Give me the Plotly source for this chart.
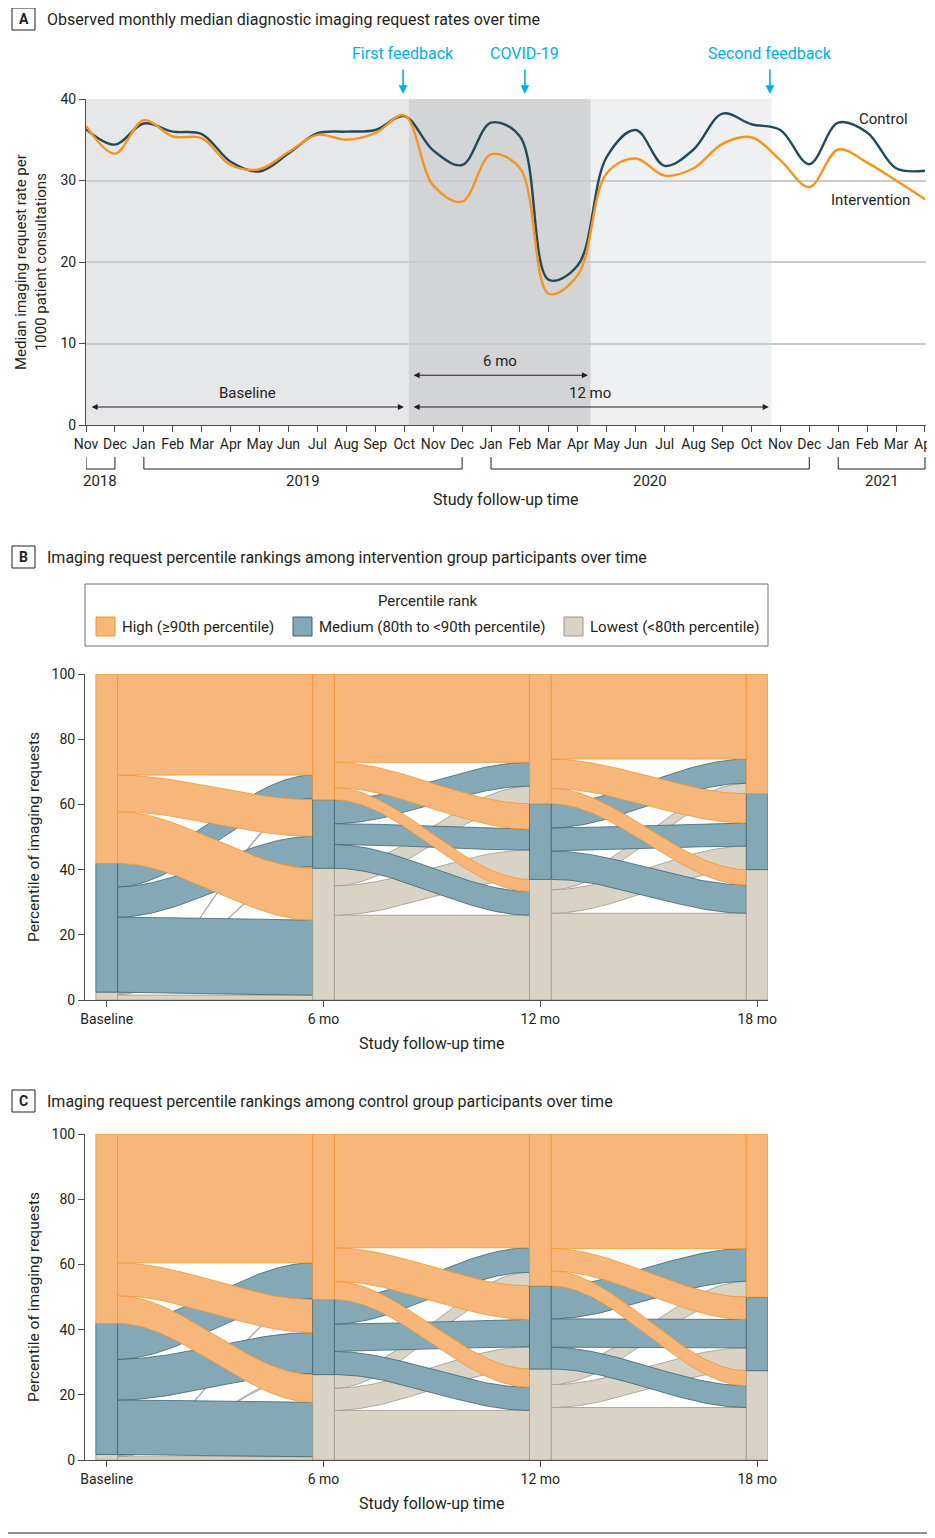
import numpy as np
import plotly.graph_objects as go

W, H = 935, 1538
FONT = "Roboto, 'Liberation Sans', Arial, sans-serif"
TXT = "#231F20"
CYAN = "#00AEEF"
PAGE_OFFSET = 8  # default body margin of the html page

# ---------------- Panel A data ----------------
month_labels = ["Nov", "Dec", "Jan", "Feb", "Mar", "Apr", "May", "Jun", "Jul", "Aug", "Sep", "Oct",
                "Nov", "Dec", "Jan", "Feb", "Mar", "Apr", "May", "Jun", "Jul", "Aug", "Sep", "Oct",
                "Nov", "Dec", "Jan", "Feb", "Mar", "Apr"]
control_rate = [36.3, 34.4, 37.0, 36.0, 35.7, 32.3, 31.1, 33.3, 35.8, 36.0, 36.2, 37.9,
                33.7, 31.9, 37.1, 35.4, 17.8, 19.6, 32.9, 36.2, 31.8, 33.8, 38.2, 36.9,
                36.2, 32.0, 37.1, 35.9, 31.5, 31.2]
intervention_rate = [36.7, 33.3, 37.4, 35.4, 35.2, 31.9, 31.4, 33.5, 35.6, 35.0, 35.8, 38.0,
                     29.4, 27.4, 33.2, 31.5, 16.1, 18.4, 30.9, 32.7, 30.6, 31.5, 34.5, 35.3,
                     32.5, 29.2, 33.8, 32.2, 30.0, 27.7]
years = ["2018", "2019", "2020", "2021"]
year_first_month = [0, 2, 14, 26]
year_last_month = [1, 13, 25, 29]
events = ["First feedback", "COVID-19", "Second feedback"]
event_month = [10.96, 15.17, 23.64]
period_edges = [0.0, 11.15, 17.45, 23.7]     # baseline | first 6 mo | to 12 mo
period_colors = ["#E6E7E8", "#D3D4D6", "#EFF0F1"]

# ---------------- Panels B/C data ----------------
time_labels = ["Baseline", "6 mo", "12 mo", "18 mo"]
ranks = ["High", "Medium", "Lowest"]
rank_legend = ["High (≥90th percentile)", "Medium (80th to <90th percentile)", "Lowest (<80th percentile)"]
# flow matrices [from rank][to rank], % of imaging requests, order High, Medium, Lowest
interv_base_to_6 = [[31.0, 11.2, 15.9], [7.2, 9.3, 23.0], [0.4, 0.5, 1.5]]
interv_6_to_12 = [[27.1, 7.8, 3.7], [7.3, 6.4, 7.3], [5.4, 9.0, 26.0]]
interv_12_to_18 = [[26.1, 9.0, 4.7], [7.4, 7.1, 8.7], [3.2, 7.2, 26.6]]
control_base_to_6 = [[39.5, 10.1, 8.5], [11.0, 12.5, 16.7], [0.3, 0.4, 1.0]]
control_6_to_12 = [[34.9, 10.3, 5.6], [7.5, 8.4, 7.1], [4.2, 6.8, 15.2]]
control_12_to_18 = [[35.1, 6.9, 4.6], [10.1, 8.7, 6.7], [4.8, 7.0, 16.1]]

fill_col = {"High": "#F7B77B", "Medium": "#84A8B6", "Lowest": "#D9D3C6"}
edge_col = {"High": "#F7962A", "Medium": "#3C6575", "Lowest": "#9E978C"}


def px(x):
    return (x - PAGE_OFFSET) / W


def py(y):
    return 1 - (y - PAGE_OFFSET) / H


fig = go.Figure()
shapes = []
ann = []


def text(t, x, y, size=15, color=TXT, xanchor="center", xref="paper", yref="paper", **kw):
    ann.append(dict(text=t, x=x, y=y, xref=xref, yref=yref, showarrow=False,
                    xanchor=xanchor, yanchor="middle", font=dict(size=size, color=color), **kw))


# ---------------- Panel A ----------------
for i in range(3):
    shapes.append(dict(type="rect", xref="x", yref="y", x0=period_edges[i],
                       x1=period_edges[i + 1], y0=0, y1=40, fillcolor=period_colors[i],
                       line_width=0, layer="below"))

months = list(range(len(month_labels)))
fig.add_trace(go.Scatter(x=months, y=control_rate, mode="lines", xaxis="x", yaxis="y",
                         line=dict(color="#24495A", width=2.4, shape="spline", smoothing=1.0),
                         hoverinfo="skip", showlegend=False))
fig.add_trace(go.Scatter(x=months, y=intervention_rate, mode="lines", xaxis="x", yaxis="y",
                         line=dict(color="#F7941D", width=2.4, shape="spline", smoothing=1.0),
                         hoverinfo="skip", showlegend=False))

text("Control", 27.55, 37.6, xref="x", yref="y")
text("Intervention", 27.1, 27.6, xref="x", yref="y")

# event markers
for name, m in zip(events, event_month):
    text(name, m, py(53), size=16, color=CYAN, xref="x")
    ann.append(dict(text="", xref="x", yref="paper", x=m, y=py(94), ax=0, ay=-26,
                    showarrow=True, arrowhead=2, arrowsize=1.1, arrowwidth=1.6,
                    arrowcolor=CYAN))

# period arrows
arrow_specs = [("Baseline", 0.14, 10.99, 2.2), ("6 mo", 11.27, 17.35, 6.1),
               ("12 mo", 11.27, 23.6, 2.2)]
for lab, a, b, yy in arrow_specs:
    ann.append(dict(text="", xref="x", yref="y", x=b, y=yy, axref="x", ayref="y", ax=a, ay=yy,
                    showarrow=True, arrowside="end+start", arrowhead=2, startarrowhead=2,
                    arrowsize=1.1, startarrowsize=1.1, arrowwidth=1.1, arrowcolor=TXT))
    text(lab, (a + b) / 2, yy + 1.75, xref="x", yref="y")

# year brackets
for yr, a, b in zip(years, year_first_month, year_last_month):
    for xx in (a, b):
        shapes.append(dict(type="line", xref="x", yref="paper", x0=xx, x1=xx,
                           y0=py(457), y1=py(469), line=dict(color=TXT, width=1)))
    shapes.append(dict(type="line", xref="x", yref="paper", x0=a, x1=b,
                       y0=py(469), y1=py(469), line=dict(color=TXT, width=1)))
    text(yr, (a + b) / 2, py(481), xref="x")

text("Study follow-up time", px(506), py(499), size=16)
text("Median imaging request rate per<br>1000 patient consultations", px(31), py(262),
     textangle=-90)

# ---------------- Alluvial panels ----------------
HALF = 0.05


def smooth(t):
    return t * t * (3 - 2 * t)


def add_alluvial(flow_list, xa, ya):
    totals = [np.array(flow_list[0]).sum(1)] + [np.array(F).sum(0) for F in flow_list]
    for k, F in enumerate(flow_list):
        F = np.array(F)
        out_tot = F.sum(1)
        in_tot = F.sum(0)
        src_bot = {2: 0.0, 1: out_tot[2], 0: out_tot[2] + out_tot[1]}
        dst_bot = {2: 0.0, 1: in_tot[2], 0: in_tot[2] + in_tot[1]}
        x0, x1 = k + HALF, k + 1 - HALF
        t = np.linspace(0, 1, 60)
        xs = x0 + (x1 - x0) * t
        s = smooth(t)
        for src in (2, 1, 0):
            for dst in (2, 1, 0):
                v = F[src, dst]
                if v <= 0:
                    continue
                b0 = src_bot[src] + F[src, dst + 1:].sum()
                b1 = dst_bot[dst] + F[src + 1:, dst].sum()
                bot = b0 + (b1 - b0) * s
                top = bot + v
                X = np.concatenate([xs, xs[::-1], xs[:1]])
                Y = np.concatenate([top, bot[::-1], top[:1]])
                r = ranks[src]
                fig.add_trace(go.Scatter(x=X, y=Y, mode="lines", fill="toself",
                                         fillcolor=fill_col[r],
                                         line=dict(color=edge_col[r], width=0.8),
                                         xaxis=xa, yaxis=ya, hoverinfo="skip",
                                         showlegend=False))
    for k, tot in enumerate(totals):
        bottoms = {2: 0.0, 1: tot[2], 0: tot[2] + tot[1]}
        for i in (2, 1, 0):
            b = bottoms[i]
            tp = b + tot[i]
            r = ranks[i]
            fig.add_trace(go.Scatter(x=[k - HALF, k + HALF, k + HALF, k - HALF, k - HALF],
                                     y=[b, b, tp, tp, b], mode="lines", fill="toself",
                                     fillcolor=fill_col[r],
                                     line=dict(color=edge_col[r], width=0.8),
                                     xaxis=xa, yaxis=ya, hoverinfo="skip", showlegend=False))


add_alluvial([interv_base_to_6, interv_6_to_12, interv_12_to_18], "x2", "y2")
add_alluvial([control_base_to_6, control_6_to_12, control_12_to_18], "x3", "y3")

for ytop, ybot in ((674, 1000), (1134, 1460)):
    text("Percentile of imaging requests", px(34), py((ytop + ybot) / 2), size=15.5,
         textangle=-90)
    text("Study follow-up time", px(432), py(ybot + 43), size=16)

# legend (panel B)
shapes.append(dict(type="rect", xref="paper", yref="paper", x0=px(85), x1=px(768),
                   y0=py(646), y1=py(584), line=dict(color="#6D6E71", width=1)))
text("Percentile rank", px(427), py(601))
sw_x = [96, 293, 564]
for r, lab, sx in zip(ranks, rank_legend, sw_x):
    shapes.append(dict(type="rect", xref="paper", yref="paper", x0=px(sx), x1=px(sx + 19),
                       y0=py(636), y1=py(617), fillcolor=fill_col[r],
                       line=dict(color=edge_col[r], width=1)))
    text(lab, px(sx + 24), py(627), xanchor="left")

# panel letters and titles
titles = ["Observed monthly median diagnostic imaging request rates over time",
          "Imaging request percentile rankings among intervention group participants over time",
          "Imaging request percentile rankings among control group participants over time"]
for letter, title, yc in zip(["A", "B", "C"], titles, [19, 557, 1101]):
    shapes.append(dict(type="rect", xref="paper", yref="paper", x0=px(12), x1=px(35),
                       y0=py(yc + 11), y1=py(yc - 11), line=dict(color=TXT, width=1)))
    text("<b>%s</b>" % letter, px(23.5), py(yc), size=14)
    text(title, px(45), py(yc), size=16, xanchor="left")

shapes.append(dict(type="line", xref="paper", yref="paper", x0=0, x1=1, y0=py(1533),
                   y1=py(1533), line=dict(color=TXT, width=1)))

axis_common = dict(showline=True, linecolor="#4D4D4F", linewidth=1, ticks="outside",
                   tickcolor="#4D4D4F", ticklen=6, tickfont=dict(size=14, color=TXT),
                   zeroline=False, automargin=False)

fig.update_layout(
    width=W, height=H, autosize=False,
    margin=dict(l=0, r=0, t=0, b=0, pad=0, autoexpand=False),
    paper_bgcolor="white", plot_bgcolor="white",
    font=dict(family=FONT, color=TXT),
    xaxis=dict(domain=[px(86), px(926)], range=[0, 29.035], tickvals=months,
               ticktext=month_labels, showgrid=False, anchor="y", **axis_common),
    yaxis=dict(domain=[py(425), py(99)], range=[0, 40], tickvals=[0, 10, 20, 30, 40],
               showgrid=True, gridcolor="#CACBCC", gridwidth=1.5, anchor="x", **axis_common),
    xaxis2=dict(domain=[px(85), px(768)], range=[-0.1, 3.05], tickvals=[0, 1, 2, 3],
                ticktext=time_labels, showgrid=False, anchor="y2", **axis_common),
    yaxis2=dict(domain=[py(1000), py(674)], range=[0, 100], tickvals=list(range(0, 101, 20)),
                showgrid=False, anchor="x2", **axis_common),
    xaxis3=dict(domain=[px(85), px(768)], range=[-0.1, 3.05], tickvals=[0, 1, 2, 3],
                ticktext=time_labels, showgrid=False, anchor="y3", **axis_common),
    yaxis3=dict(domain=[py(1460), py(1134)], range=[0, 100], tickvals=list(range(0, 101, 20)),
                showgrid=False, anchor="x3", **axis_common),
    shapes=shapes,
    annotations=ann,
)

fig.write_html("out.html")
